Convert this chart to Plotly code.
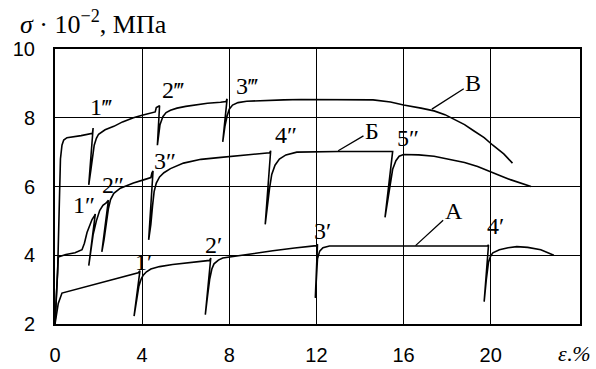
import plotly.graph_objects as go

# ---- data ----
# Curve В (top)
v_x = [0, 0.12, 0.25, 0.32, 0.4, 0.55, 1.2, 1.6, 1.72, 1.75, 1.55, 1.65, 1.72, 1.8, 1.9, 2.0, 2.3,
       2.7, 3.1, 3.6, 4.0, 4.6, 4.65, 4.8, 4.7, 4.75, 4.82, 4.95, 5.1, 5.3, 5.6, 6.0, 6.5, 7.0, 7.6,
       7.85, 7.9, 7.7, 7.8, 7.9, 8.0, 8.15, 8.4, 8.8, 9.4, 10.5, 11.3, 13.0, 14.6, 15.4, 16.0, 16.8,
       17.4, 17.9, 18.3, 18.8, 19.2, 19.7, 20.1, 20.6, 21.0]
v_y = [2.0, 3.5, 6.8, 7.2, 7.35, 7.42, 7.48, 7.53, 7.55, 7.7, 6.05, 6.5, 6.9, 7.2, 7.4, 7.52, 7.65,
       7.75, 7.88, 8.0, 8.07, 8.17, 8.3, 8.35, 7.2, 7.5, 7.8, 8.03, 8.15, 8.22, 8.28, 8.33, 8.38, 8.42,
       8.45, 8.47, 8.55, 7.3, 7.75, 8.05, 8.25, 8.37, 8.44, 8.48, 8.5, 8.52, 8.53, 8.53, 8.52, 8.46,
       8.37, 8.28, 8.2, 8.09, 7.97, 7.8, 7.63, 7.42, 7.2, 6.95, 6.68]
# Curve Б (middle)
b_x = [0, 0.1, 0.15, 0.5, 0.92, 1.24, 1.35, 1.47, 1.6, 1.7, 1.8, 1.85, 1.55, 1.65, 1.75, 1.9, 2.05,
       2.2, 2.35, 2.45, 2.15, 2.25, 2.35, 2.45, 2.55, 2.7, 3.0, 3.6, 4.1, 4.4, 4.45, 4.5, 4.3, 4.4,
       4.48, 4.55, 4.65, 4.8, 5.0, 5.3, 5.9, 6.7, 7.5, 8.05, 9.0, 9.85, 9.9, 9.65, 9.75, 9.85, 9.95,
       10.1, 10.3, 10.6, 11.1, 13.0, 15.45, 15.5, 15.15, 15.3, 15.4, 15.5, 15.65, 15.8, 16.0, 16.7,
       17.4, 18.1, 18.8, 19.4, 20.0, 20.5, 20.9, 21.4, 21.85]
b_y = [2.0, 3.4, 3.95, 4.02, 4.07, 4.16, 4.35, 4.66, 4.88, 5.04, 5.14, 5.2, 3.7, 4.2, 4.6, 5.0, 5.3,
       5.45, 5.52, 5.6, 4.1, 4.45, 4.9, 5.35, 5.62, 5.8, 5.95, 6.1, 6.2, 6.26, 6.4, 6.45, 4.45, 4.9,
       5.45, 5.85, 6.1, 6.28, 6.4, 6.52, 6.68, 6.79, 6.84, 6.88, 6.93, 6.98, 7.04, 4.9, 5.45, 5.95,
       6.35, 6.62, 6.8, 6.92, 7.0, 7.02, 7.02, 7.02, 5.1, 5.7, 6.15, 6.5, 6.75, 6.88, 6.93, 6.92, 6.88,
       6.8, 6.7, 6.58, 6.44, 6.3, 6.2, 6.1, 6.0]
# Curve А (bottom)
a_x = [0, 0.15, 0.32, 1.5, 2.7, 3.82, 3.9, 3.63, 3.75, 3.85, 3.95, 4.05, 4.2, 4.4, 4.8, 5.4, 6.0,
       6.67, 7.1, 7.15, 6.9, 7.0, 7.1, 7.2, 7.3, 7.5, 7.7, 8.1, 9.0, 10.0, 11.0, 12.0, 12.05, 11.95,
       12.0, 12.05, 12.15, 12.3, 12.6, 14.0, 16.0, 18.0, 19.85, 19.9, 19.7, 19.8, 19.9, 20.0, 20.1,
       20.4, 20.8, 21.2, 21.7, 22.3, 22.9]
a_y = [2.0, 2.6, 2.9, 3.1, 3.3, 3.49, 3.55, 2.23, 2.7, 3.1, 3.3, 3.42, 3.52, 3.6, 3.67, 3.73, 3.77,
       3.81, 3.85, 3.92, 2.27, 2.8, 3.3, 3.6, 3.75, 3.86, 3.92, 3.96, 4.05, 4.13, 4.21, 4.28, 4.32,
       2.76, 3.4, 3.9, 4.12, 4.22, 4.27, 4.27, 4.27, 4.27, 4.27, 4.3, 2.65, 3.3, 3.8, 3.98, 4.07,
       4.16, 4.22, 4.25, 4.23, 4.16, 4.0]

x_ticks = [0, 4, 8, 12, 16, 20]
y_ticks = [2, 4, 6, 8, 10]

# point labels: text, x, y
pt_text = ["1‴", "2‴", "3‴", "1″", "2″", "3″", "4″", "5″", "1′", "2′", "3′", "4′"]
pt_x = [2.1, 5.4, 8.8, 1.33, 2.67, 5.06, 10.6, 16.2, 4.05, 7.26, 12.3, 20.2]
pt_y = [8.3, 8.8, 8.92, 5.45, 6.05, 6.75, 7.5, 7.4, 3.81, 4.3, 4.7, 4.85]

# curve names with leader points
cn_text = ["В", "Б", "А"]
cn_x = [19.2, 14.55, 18.3]
cn_y = [9.02, 7.62, 5.3]
cn_px = [17.3, 13.0, 16.55]
cn_py = [8.25, 7.04, 4.28]

fig = go.Figure()
line_style = dict(color="black", width=1.6)
for xs, ys in [(v_x, v_y), (b_x, b_y), (a_x, a_y)]:
    fig.add_trace(go.Scatter(x=xs, y=ys, mode="lines", line=line_style,
                             showlegend=False, hoverinfo="skip"))

serif = "Liberation Serif, Times New Roman, serif"
for t, x, y in zip(pt_text, pt_x, pt_y):
    fig.add_annotation(x=x, y=y, text=t, showarrow=False,
                       font=dict(family=serif, size=24, color="black"))
for t, x, y, px, py in zip(cn_text, cn_x, cn_y, cn_px, cn_py):
    fig.add_annotation(x=px, y=py, ax=x, ay=y, axref="x", ayref="y", text=t,
                       showarrow=True, arrowhead=0, arrowwidth=1.3, arrowcolor="black",
                       font=dict(family=serif, size=24, color="black"))

fig.add_annotation(xref="paper", yref="paper", x=-0.07, y=1.095, xanchor="left",
                   yanchor="middle", showarrow=False,
                   text="<i>σ</i> · 10<sup>−2</sup>, МПа",
                   font=dict(family=serif, size=26, color="black"))
fig.add_annotation(xref="paper", yref="paper", x=1.025, y=-0.108, xanchor="right",
                   yanchor="middle", showarrow=False,
                   text="<i>ε</i>.<i>%</i>",
                   font=dict(family=serif, size=22, color="black"))

axis_common = dict(showline=True, mirror=True, linecolor="black", linewidth=2,
                   showgrid=True, gridcolor="black", gridwidth=1.3, zeroline=False,
                   ticks="outside", tickcolor="rgba(0,0,0,0)", automargin=False,
                   tickfont=dict(family="Liberation Sans, Arial, sans-serif", size=20,
                                 color="black"))
fig.update_xaxes(range=[0, 24.1], tickvals=x_ticks, ticklen=12, **axis_common)
fig.update_yaxes(range=[2, 10], tickvals=y_ticks, ticklen=14, **axis_common)

fig.update_layout(width=596, height=369, margin=dict(l=55, r=16, t=49, b=45, autoexpand=False),
                  plot_bgcolor="white", paper_bgcolor="white", showlegend=False)

fig.write_html("out.html", config={"displayModeBar": False},
               post_script="document.body.style.margin='0';document.body.style.overflow='hidden';")
